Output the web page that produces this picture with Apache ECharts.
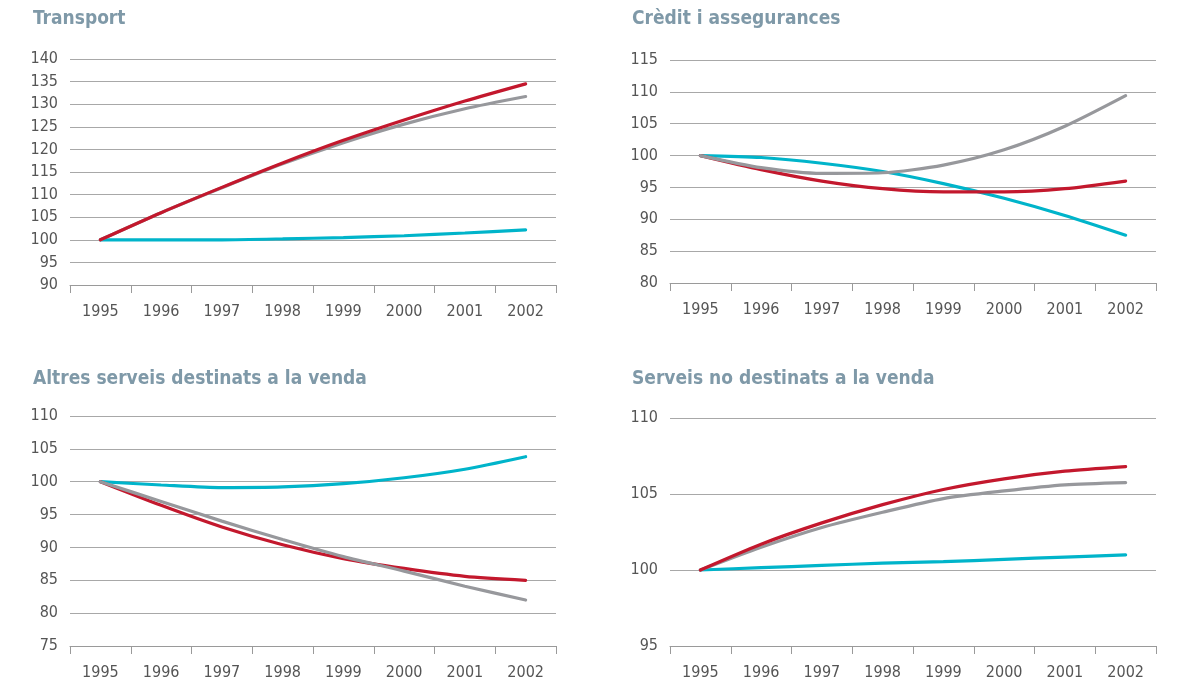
<!DOCTYPE html>
<html>
<head>
<meta charset="utf-8">
<script src="https://cdn.jsdelivr.net/npm/echarts@6/dist/echarts.min.js"></script>
<style>
  html, body { margin: 0; padding: 0; background: #fff; }
  #chart { width: 1182px; height: 686px; }
</style>
</head>
<body>
<div id="chart"></div>
<script>
// anys
var years = ["1995", "1996", "1997", "1998", "1999", "2000", "2001", "2002"];

// Transport
var transportRed = [100, 106, 111.6, 117.0, 122.0, 126.5, 130.7, 134.5];
var transportGray = [100, 106, 111.5, 116.8, 121.5, 125.6, 129.0, 131.7];
var transportCyan = [100, 100, 100, 100.2, 100.5, 100.9, 101.5, 102.2];

// Crèdit i assegurances
var creditRed = [100, 97.8, 96.0, 94.8, 94.3, 94.3, 94.8, 96.0];
var creditGray = [100, 98.1, 97.2, 97.3, 98.5, 100.9, 104.6, 109.4];
var creditCyan = [100, 99.7, 98.8, 97.5, 95.6, 93.3, 90.6, 87.5];

// Altres serveis destinats a la venda
var altresRed = [100, 96.4, 93.1, 90.4, 88.3, 86.8, 85.6, 85.0];
var altresGray = [100, 97.0, 94.0, 91.2, 88.6, 86.4, 84.1, 82.0];
var altresCyan = [100, 99.5, 99.1, 99.2, 99.7, 100.6, 101.9, 103.8];

// Serveis no destinats a la venda
var noVendaRed = [100, 101.7, 103.1, 104.3, 105.3, 106.0, 106.5, 106.8];
var noVendaGray = [100, 101.5, 102.8, 103.8, 104.7, 105.2, 105.6, 105.75];
var noVendaCyan = [100, 100.15, 100.3, 100.45, 100.55, 100.7, 100.85, 101.0];

var titles = ["Transport", "Crèdit i assegurances", "Altres serveis destinats a la venda", "Serveis no destinats a la venda"];
var yRanges = [[90, 140, 5], [80, 115, 5], [75, 110, 5], [95, 110, 5]];

var RED = "#c3182d", GRAY = "#97989c", CYAN = "#00b4ca";
var FONT = "'DejaVu Sans Condensed', Roboto, sans-serif";

var myChart = echarts.init(document.getElementById("chart"));

var grids = [
  { left: 70, top: 59, width: 486, height: 226 },
  { left: 670, top: 60, width: 486, height: 223 },
  { left: 70, top: 416, width: 486, height: 230 },
  { left: 670, top: 418, width: 486, height: 228 }
];

var titlePos = [
  { left: 28, top: 5 },
  { left: 627, top: 5 },
  { left: 28, top: 365 },
  { left: 627, top: 365 }
];

var xAxes = [], yAxes = [];
for (var i = 0; i < 4; i++) {
  xAxes.push({
    type: "category",
    gridIndex: i,
    data: years,
    boundaryGap: true,
    axisLine: { lineStyle: { color: "#9a9a9a", width: 1 } },
    axisTick: { show: true, length: 8, inside: false, lineStyle: { color: "#9a9a9a" } },
    axisLabel: { color: "#555", fontSize: 16, fontFamily: FONT, margin: 19 },
    splitLine: { show: false }
  });
  yAxes.push({
    type: "value",
    gridIndex: i,
    min: yRanges[i][0],
    max: yRanges[i][1],
    interval: yRanges[i][2],
    axisLine: { show: false },
    axisTick: { show: false },
    axisLabel: { color: "#555", fontSize: 16, fontFamily: FONT, margin: 12 },
    splitLine: { lineStyle: { color: "#a8a8a8", width: 1 } }
  });
}

function line(idx, data, color) {
  return {
    type: "line",
    xAxisIndex: idx,
    yAxisIndex: idx,
    data: data,
    symbol: "none",
    smooth: 0.25,
    lineStyle: { color: color, width: 3.2, cap: "round" },
    animation: false
  };
}

var option = {
  animation: false,
  title: titles.map(function (t, i) {
    return {
      text: t,
      left: titlePos[i].left,
      top: titlePos[i].top,
      textStyle: { color: "#7f99a8", fontSize: 19, fontWeight: "bold", fontFamily: FONT }
    };
  }),
  grid: grids,
  xAxis: xAxes,
  yAxis: yAxes,
  series: [
    line(0, transportCyan, CYAN), line(0, transportGray, GRAY), line(0, transportRed, RED),
    line(1, creditCyan, CYAN), line(1, creditRed, RED), line(1, creditGray, GRAY),
    line(2, altresCyan, CYAN), line(2, altresRed, RED), line(2, altresGray, GRAY),
    line(3, noVendaCyan, CYAN), line(3, noVendaGray, GRAY), line(3, noVendaRed, RED)
  ]
};

myChart.setOption(option);
window.addEventListener("resize", function () {
  myChart.resize();
});
</script>
</body>
</html>
